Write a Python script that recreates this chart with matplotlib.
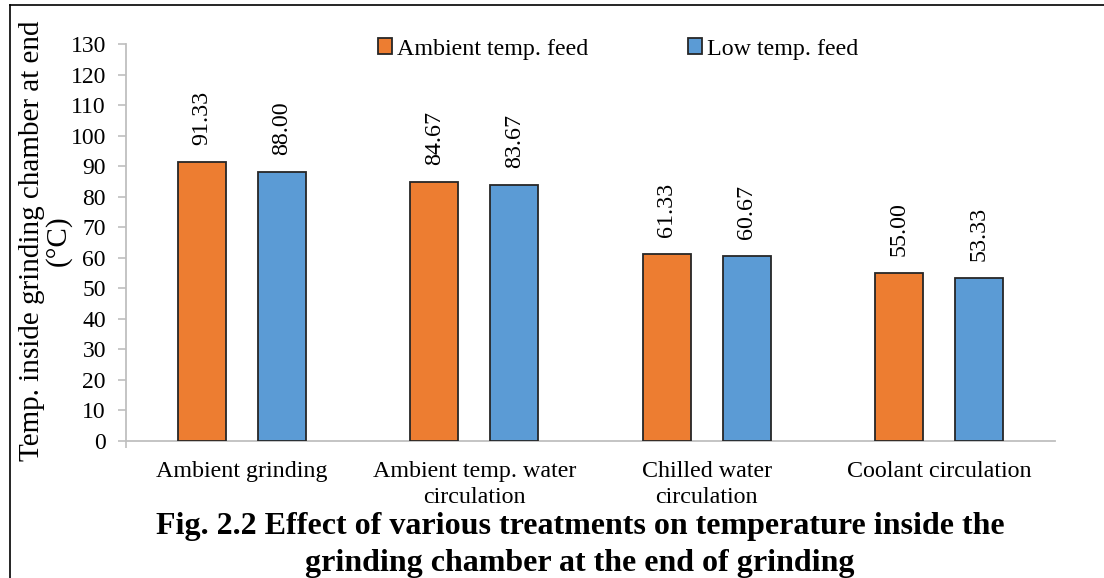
import matplotlib.pyplot as plt
import numpy as np
from matplotlib.lines import Line2D

plt.rcParams["font.family"] = ["Liberation Serif", "DejaVu Serif"]

categories = ["Ambient grinding", "Ambient temp. water\ncirculation",
              "Chilled water\ncirculation", "Coolant circulation"]
ambient_feed = [91.33, 84.67, 61.33, 55.00]
low_feed = [88.00, 83.67, 60.67, 53.33]
series_names = ["Ambient temp. feed", "Low temp. feed"]
yticks = list(range(0, 131, 10))

W, H = 1104, 578
fig = plt.figure(figsize=(W / 100, H / 100), dpi=100)
px = 72 / 100  # one pixel in points

# axes box in pixel terms: y-axis at x=126, x-axis at y=441, top (130) at y=44
x0, x1 = 126, 1055
y0, y1 = 441, 44
ax = fig.add_axes([x0 / W, 1 - y0 / H, (x1 - x0) / W, (y0 - y1) / H])

x = np.arange(len(categories))
bw = 0.207
off = 0.172
orange = "#ED7D31"
blue = "#5B9BD5"
edge = "#262626"

b1 = ax.bar(x - off, ambient_feed, bw, color=orange, edgecolor=edge,
            linewidth=1.3, label=series_names[0], zorder=3)
b2 = ax.bar(x + off, low_feed, bw, color=blue, edgecolor=edge,
            linewidth=1.3, label=series_names[1], zorder=3)

for bars, vals in ((b1, ambient_feed), (b2, low_feed)):
    for r, v in zip(bars, vals):
        ax.annotate(f"{v:.2f}", (r.get_x() + r.get_width() / 2, v),
                    xytext=(0, 17), textcoords="offset pixels",
                    rotation=90, ha="center", va="bottom", fontsize=17.3)

ax.set_xlim(-0.5, len(categories) - 0.5)
ax.set_ylim(0, 130)
ax.set_yticks(yticks)
ax.set_xticks(x)
ax.set_xticklabels(categories, fontsize=17.3, linespacing=1.3)
ax.tick_params(axis="x", length=0, pad=20 * px)
ax.tick_params(axis="y", direction="out", length=8 * px, width=1.2,
               color="#BFBFBF", labelsize=17, pad=12 * px)
ax.set_xticks([-0.5], minor=True)
ax.tick_params(axis="x", which="minor", direction="out", length=7 * px,
               width=1.2, color="#BFBFBF")

for s in ("top", "right"):
    ax.spines[s].set_visible(False)
for s in ("left", "bottom"):
    ax.spines[s].set_color("#BFBFBF")
    ax.spines[s].set_linewidth(1.3)

fig.text(45 / W, 1 - 241 / H, "Temp. inside grinding chamber at end\n(°C)",
         rotation=90, ha="center", va="center", fontsize=21,
         multialignment="center", linespacing=1.0)

leg = fig.legend(handles=[b1, b2], loc="center",
                 bbox_to_anchor=(618 / W, 1 - 49 / H), ncol=2,
                 frameon=False, fontsize=17.3, handlelength=0.6,
                 handleheight=0.6, handletextpad=0.2, columnspacing=4.13,
                 borderpad=0)

fig.text(580 / W, 1 - 545 / H,
         "Fig. 2.2 Effect of various treatments on temperature inside the\n"
         "grinding chamber at the end of grinding",
         ha="center", va="center", fontsize=23, fontweight="bold",
         linespacing=1.36)

# outer frame (left and top edges)
fig.add_artist(Line2D([10 / W, 10 / W], [0, 1 - 5 / H], color="black",
                      linewidth=1.2, transform=fig.transFigure))
fig.add_artist(Line2D([10 / W, 1], [1 - 5 / H, 1 - 5 / H], color="black",
                      linewidth=1.2, transform=fig.transFigure))

fig.savefig("out.png", dpi=100)
